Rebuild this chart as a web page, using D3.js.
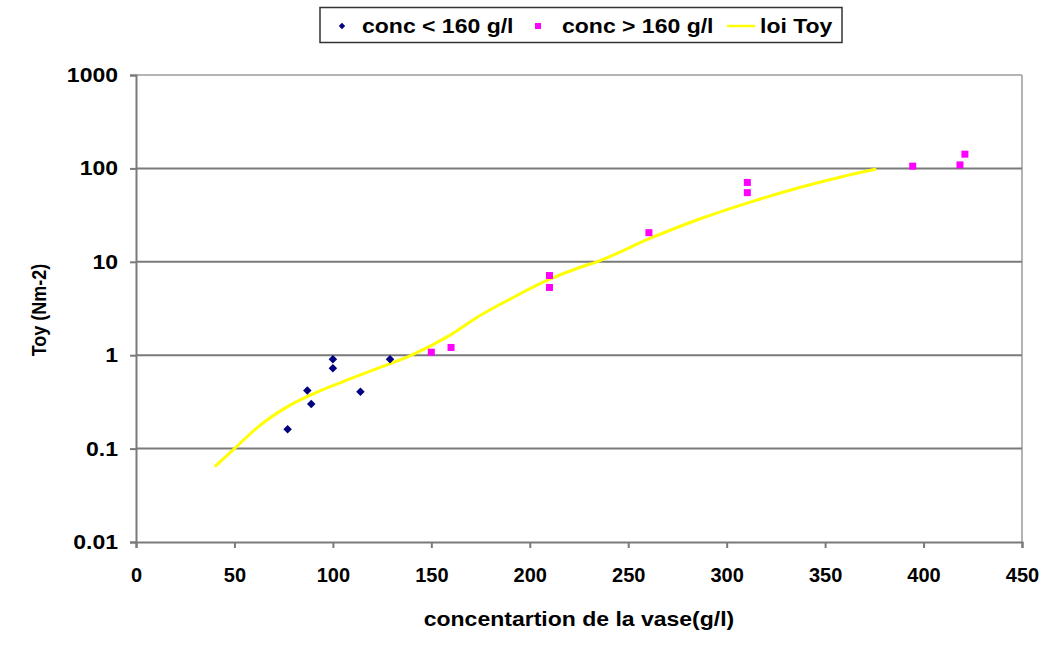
<!DOCTYPE html>
<html>
<head>
<meta charset="utf-8">
<script src="https://cdn.jsdelivr.net/npm/d3@7"></script>
<style>
  html, body { margin: 0; padding: 0; background: #ffffff; }
  svg { display: block; }
  text { font-family: "Liberation Sans", Arial, sans-serif; font-weight: bold; fill: #000; }
</style>
</head>
<body>
<svg id="chart" width="1051" height="653"></svg>
<script>
// ---- data ----
const lowConcX = [77, 87, 89, 100, 100, 114, 129];
const lowConcY = [0.161, 0.42, 0.30, 0.906, 0.726, 0.405, 0.906];

const highConcX = [150, 160, 210, 210, 260.5, 310.5, 310.5, 394.5, 418.5, 421];
const highConcY = [1.077, 1.21, 7.13, 5.31, 20.5, 70.7, 55.0, 105.7, 109, 142];

const toyX = [40, 50, 61, 78, 94, 109, 124, 140, 158, 175, 192, 209, 226, 234, 261, 287, 312, 338, 358, 376];
const toyY = [0.064, 0.1, 0.164, 0.29, 0.42, 0.56, 0.74, 1.0, 1.57, 2.68, 4.2, 6.35, 8.8, 10.0, 17.8, 29.1, 43.6, 63.2, 81, 98.5];

const xTicks = [0, 50, 100, 150, 200, 250, 300, 350, 400, 450];
const yTicks = [0.01, 0.1, 1, 10, 100, 1000];
const yTickLabels = ["0.01", "0.1", "1", "10", "100", "1000"];

const legendLabels = ["conc < 160 g/l", "conc > 160 g/l", "loi Toy"];
const xTitle = "concentartion de la vase(g/l)";
const yTitle = "Toy (Nm-2)";

// ---- layout ----
const svg = d3.select("#chart");
const pLeft = 136, pRight = 1022, pTop = 75, pBottom = 542;
const SX = 1.15; // horizontal stretch of the original text

const x = d3.scaleLinear().domain([0, 450]).range([pLeft, pRight]);
const y = d3.scaleLog().domain([0.01, 1000]).range([pBottom, pTop]);

function stretchedText(g, tx, ty, str, size, anchor) {
  return g.append("text")
    .attr("transform", `translate(${tx},${ty}) scale(${SX},1)`)
    .attr("text-anchor", anchor || "start")
    .style("font-size", size + "px")
    .text(str);
}

// plot border (top/right, light)
svg.append("line").attr("x1", pLeft).attr("x2", pRight).attr("y1", pTop).attr("y2", pTop)
  .attr("stroke", "#b4b4b4").attr("stroke-width", 2);
svg.append("line").attr("x1", pRight).attr("x2", pRight).attr("y1", pTop).attr("y2", pBottom)
  .attr("stroke", "#b4b4b4").attr("stroke-width", 2);

// gridlines
svg.append("g").selectAll("line")
  .data(yTicks.filter(d => d > 0.01 && d < 1000))
  .join("line")
  .attr("x1", pLeft).attr("x2", pRight)
  .attr("y1", d => y(d)).attr("y2", d => y(d))
  .attr("stroke", "#7a7a7a").attr("stroke-width", 2);

// y axis (ticks via d3 axis, labels stretched)
const yAxis = d3.axisLeft(y).tickValues(yTicks).tickFormat("").tickSize(6);
const gy = svg.append("g").attr("transform", `translate(${pLeft},0)`).call(yAxis);
gy.select(".domain").attr("stroke", "#7a7a7a").attr("stroke-width", 2);
gy.selectAll(".tick line").attr("stroke", "#7a7a7a").attr("stroke-width", 2);
const gyl = svg.append("g");
yTicks.forEach((v, i) => stretchedText(gyl, 118, y(v) + 7, yTickLabels[i], 20, "end"));

// x axis
const xAxis = d3.axisBottom(x).tickValues(xTicks).tickSize(6).tickPadding(20);
const gx = svg.append("g").attr("transform", `translate(0,${pBottom})`).call(xAxis);
gx.select(".domain").attr("stroke", "#7a7a7a").attr("stroke-width", 2);
gx.selectAll(".tick line").attr("stroke", "#7a7a7a").attr("stroke-width", 2);
gx.selectAll(".tick text").style("font-size", "20px").style("font-family", "'Liberation Sans', Arial, sans-serif").style("font-weight", "bold").attr("fill", "#000");

// axis titles
stretchedText(svg, 579, 626, xTitle, 20, "middle");
svg.append("text").attr("transform", `translate(46,310) rotate(-90) scale(1,${SX})`)
  .attr("text-anchor", "middle").style("font-size", "18px").text(yTitle);

// loi Toy line
const toyData = toyX.map((v, i) => [v, toyY[i]]);
svg.append("path").datum(toyData)
  .attr("fill", "none").attr("stroke", "#ffff00").attr("stroke-width", 3)
  .attr("d", d3.line().x(d => x(d[0])).y(d => y(d[1])).curve(d3.curveMonotoneX));

// blue diamonds (rotated squares)
const sq = d3.symbol().type(d3.symbolSquare).size(36);
svg.append("g").selectAll("path")
  .data(lowConcX.map((v, i) => [v, lowConcY[i]]))
  .join("path")
  .attr("transform", d => `translate(${x(d[0])},${y(d[1])}) rotate(45)`)
  .attr("d", sq).attr("fill", "#000080");

// pink squares
svg.append("g").selectAll("rect")
  .data(highConcX.map((v, i) => [v, highConcY[i]]))
  .join("rect")
  .attr("x", d => x(d[0]) - 3.5).attr("y", d => y(d[1]) - 3.5)
  .attr("width", 7).attr("height", 7).attr("fill", "#ff00ff");

// legend
const lg = svg.append("g");
lg.append("rect").attr("x", 320).attr("y", 7.5).attr("width", 522).attr("height", 35)
  .attr("fill", "#fff").attr("stroke", "#333").attr("stroke-width", 1.5);
lg.append("path").attr("transform", "translate(342,26) rotate(45)")
  .attr("d", d3.symbol().type(d3.symbolSquare).size(20)).attr("fill", "#000080");
stretchedText(lg, 362, 33, legendLabels[0], 20);
lg.append("rect").attr("x", 535).attr("y", 23).attr("width", 6).attr("height", 6).attr("fill", "#ff00ff");
stretchedText(lg, 562, 33, legendLabels[1], 20);
lg.append("line").attr("x1", 727).attr("x2", 755).attr("y1", 26).attr("y2", 26)
  .attr("stroke", "#ffff00").attr("stroke-width", 2.5);
stretchedText(lg, 760, 33, legendLabels[2], 20);
</script>
</body>
</html>
